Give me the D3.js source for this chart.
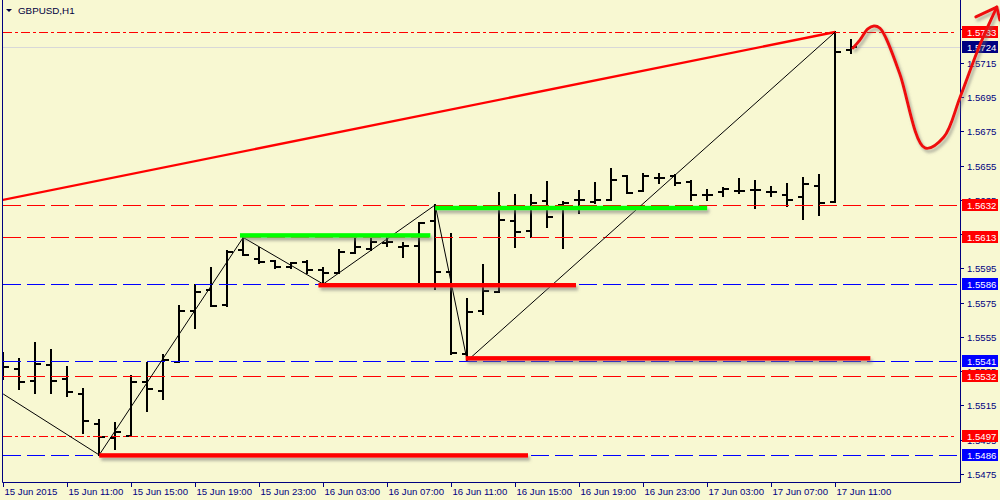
<!DOCTYPE html>
<html><head><meta charset="utf-8">
<script src="https://cdn.jsdelivr.net/npm/d3@7"></script>
<style>
html,body{margin:0;padding:0;background:#F8F8D2;}
svg{display:block;font-family:"Liberation Sans",Arial,sans-serif;}
</style></head>
<body>
<svg id="c" width="1000" height="500"></svg>
<script>
// ---- data ----
const symbol = "GBPUSD,H1";
// hourly bars, index 0 = 15 Jun 2015 07:00
const open  = [1.55356,1.55361,1.55294,1.55384,1.55302,1.55215,1.55039,1.54961,1.54972,1.55288,1.55236,1.55405,1.55701,1.55824,1.55736,1.56057,1.56005,1.55993,1.55956,1.55989,1.55940,1.55925,1.56041,1.56061,1.56100,1.56076,1.56081,1.56226,1.55930,1.55448,1.55701,1.55814,1.56226,1.56170,1.56345,1.56320,1.56349,1.56339,1.56349,1.56489,1.56402,1.56476,1.56489,1.56454,1.56381,1.56396,1.56403,1.56407,1.56394,1.56378,1.56365,1.56431,1.56339,1.57225];
const high  = [1.55454,1.55419,1.55512,1.55473,1.55372,1.55244,1.55064,1.55045,1.55321,1.55396,1.55444,1.55730,1.55853,1.55950,1.56053,1.56130,1.56067,1.55995,1.55983,1.55995,1.55950,1.56057,1.56120,1.56120,1.56135,1.56100,1.56217,1.56320,1.56151,1.55769,1.55970,1.56388,1.56378,1.56378,1.56456,1.56335,1.56403,1.56447,1.56528,1.56491,1.56501,1.56501,1.56495,1.56460,1.56410,1.56417,1.56470,1.56458,1.56427,1.56442,1.56476,1.56495,1.57330,1.57283];
const low   = [1.55302,1.55247,1.55220,1.55220,1.55205,1.54990,1.54860,1.54893,1.54968,1.55119,1.55189,1.55403,1.55600,1.55728,1.55728,1.56028,1.55983,1.55954,1.55954,1.55921,1.55858,1.55923,1.56038,1.56059,1.56081,1.56018,1.55866,1.55828,1.55452,1.55410,1.55682,1.55812,1.56076,1.56131,1.56193,1.56067,1.56275,1.56333,1.56347,1.56390,1.56400,1.56447,1.56437,1.56349,1.56349,1.56374,1.56390,1.56301,1.56372,1.56314,1.56236,1.56261,1.56337,1.57206];
const close = [1.55376,1.55288,1.55390,1.55294,1.55226,1.55059,1.54967,1.54993,1.55285,1.55247,1.55415,1.55701,1.55810,1.55732,1.56047,1.56030,1.55985,1.55956,1.55979,1.55940,1.55925,1.56047,1.56076,1.56106,1.56104,1.56081,1.56215,1.55930,1.55456,1.55693,1.55819,1.56232,1.56164,1.56333,1.56252,1.56333,1.56349,1.56349,1.56466,1.56392,1.56489,1.56476,1.56447,1.56378,1.56381,1.56412,1.56403,1.56407,1.56394,1.56349,1.56442,1.56333,1.57215,1.57240];

const xTickIndex  = [0,4,8,12,16,20,24,28,32,36,40,44,48,52];
const xTickLabels = ["15 Jun 2015","15 Jun 11:00","15 Jun 15:00","15 Jun 19:00","15 Jun 23:00","16 Jun 03:00","16 Jun 07:00","16 Jun 11:00","16 Jun 15:00","16 Jun 19:00","16 Jun 23:00","17 Jun 03:00","17 Jun 07:00","17 Jun 11:00"];
const yTickValues = [1.5475,1.5495,1.5515,1.5535,1.5555,1.5575,1.5595,1.5615,1.5635,1.5655,1.5675,1.5695,1.5715,1.5735];

// horizontal level lines
const levelPrices = [1.5733,1.5632,1.5613,1.5586,1.5541,1.5532,1.5497,1.5486];
const levelColors = ["red","red","red","blue","blue","red","red","blue"];
const levelStyles = ["dashdot","dash","dash","dash","dash","dash","dashdot","dash"];
const bidPrice = 1.5724;

// thick support / resistance segments
const srPrice = [1.54857,1.56142,1.55851,1.56302,1.55424];
const srStart = [6,14.8,19.7,27,28.9];
const srEnd   = [32.8,26.7,35.8,44,54.2];
const srColor = ["red","green","red","green","red"];

// zigzag pivots
const zzIndex = [0,6,15,20,27,29,52];
const zzPrice = [1.55216,1.5486,1.5613,1.55858,1.5632,1.5541,1.5733];

// red trend line
const trendIndex = [-0.2,52];
const trendPrice = [1.56346,1.5733];

// hand-drawn forecast arrow
const arrowIndex = [53.11,53.54,54.04,54.42,54.79,55.17,56.04,57.61,58.79,59.79,61.04,62.1];
const arrowPrice = [1.57237,1.57283,1.57348,1.57365,1.57353,1.57295,1.57085,1.56653,1.56717,1.56945,1.57254,1.57476];
const headIndex = [60.79,62.1,62.29];
const headPrice = [1.57418,1.57476,1.57400];

// ---- drawing ----
const W = 1000, H = 500;
const plotL = 3, plotR = 960, plotB = 482;
const x = d3.scaleLinear().domain([-0.2, 59.8]).range([0, 960]);
const y = d3.scaleLinear().domain([1.54702, 1.57517]).range([482, 0]);
const navy = "#000080";
const colorMap = {red:"#FF0000", blue:"#0000FF", green:"#00FF00"};

const svg = d3.select("#c");
svg.append("rect").attr("width",W).attr("height",H).attr("fill","#F8F8D2");

const defs = svg.append("defs");
defs.append("clipPath").attr("id","plot").append("rect")
  .attr("x",plotL).attr("y",0).attr("width",plotR-plotL).attr("height",plotB);
const f = defs.append("filter").attr("id","sh").attr("filterUnits","userSpaceOnUse")
  .attr("x",0).attr("y",0).attr("width",W).attr("height",H);
f.append("feDropShadow").attr("dx",2).attr("dy",3).attr("stdDeviation",1.6)
  .attr("flood-color","#707070").attr("flood-opacity",0.55);

const plot = svg.append("g").attr("clip-path","url(#plot)");

// bid line
plot.append("line").attr("x1",plotL).attr("x2",plotR)
  .attr("y1",Math.round(y(bidPrice))+0.5).attr("y2",Math.round(y(bidPrice))+0.5)
  .attr("stroke","#D8D8D8").attr("stroke-width",1);

// bars
const bars = plot.append("g").attr("stroke","#000").attr("stroke-width",2).attr("shape-rendering","crispEdges");
open.forEach((o,i)=>{
  const cx = Math.round(x(i));
  const g = bars.append("g");
  g.append("line").attr("x1",cx).attr("x2",cx).attr("y1",Math.round(y(high[i]))-1).attr("y2",Math.round(y(low[i]))+1);
  g.append("line").attr("x1",cx-5).attr("x2",cx).attr("y1",Math.round(y(o))).attr("y2",Math.round(y(o)));
  g.append("line").attr("x1",cx).attr("x2",cx+6).attr("y1",Math.round(y(close[i]))).attr("y2",Math.round(y(close[i])));
});

// level lines
levelPrices.forEach((p,k)=>{
  const yy = Math.round(y(p))+0.5;
  plot.append("line").attr("x1",plotL).attr("x2",plotR-3).attr("y1",yy).attr("y2",yy)
    .attr("stroke",colorMap[levelColors[k]]).attr("stroke-width",1)
    .attr("stroke-dasharray", levelStyles[k]==="dash" ? "18,6" : "9,3,3,3");
});

// trend line
plot.append("line")
  .attr("x1",x(trendIndex[0])).attr("y1",y(trendPrice[0]))
  .attr("x2",x(trendIndex[1])).attr("y2",y(trendPrice[1]))
  .attr("stroke","#FF0000").attr("stroke-width",2.4);

// zigzag
plot.append("path")
  .attr("d", d3.line().x(d=>x(d[0])).y(d=>y(d[1]))(zzIndex.map((v,i)=>[v,zzPrice[i]])))
  .attr("fill","none").attr("stroke","#000").attr("stroke-width",1);

// thick S/R lines
const srG = plot.append("g").attr("filter","url(#sh)");
srPrice.forEach((p,k)=>{
  srG.append("rect").attr("x",x(srStart[k])).attr("width",x(srEnd[k])-x(srStart[k]))
    .attr("y",y(p)-2.25).attr("height",4.5)
    .attr("fill",colorMap[srColor[k]]);
});

// axes frame
svg.append("line").attr("x1",2.5).attr("x2",2.5).attr("y1",0).attr("y2",plotB+0.5).attr("stroke",navy);
svg.append("line").attr("x1",plotR+0.5).attr("x2",plotR+0.5).attr("y1",0).attr("y2",plotB+0.5).attr("stroke",navy);
svg.append("line").attr("x1",2.5).attr("x2",plotR+0.5).attr("y1",plotB+0.5).attr("y2",plotB+0.5).attr("stroke",navy);

// y ticks
const yAx = svg.append("g");
yTickValues.forEach(v=>{
  const yy = Math.round(y(v))+0.5;
  yAx.append("line").attr("x1",plotR).attr("x2",plotR+4).attr("y1",yy).attr("y2",yy).attr("stroke",navy);
  yAx.append("text").attr("x",967).attr("y",yy+3.5).attr("font-size","9.6px").attr("fill",navy).text(v.toFixed(4));
});

// x ticks
const xAx = svg.append("g");
xTickIndex.forEach((v,k)=>{
  const xx = Math.round(x(v))+0.5;
  xAx.append("line").attr("x1",xx).attr("x2",xx).attr("y1",plotB).attr("y2",plotB+5).attr("stroke",navy);
  xAx.append("text").attr("x",xx+1).attr("y",495).attr("font-size","9.6px").attr("fill",navy).text(xTickLabels[k]);
});

// price labels
function priceLabel(p, col){
  const yy = y(p);
  svg.append("rect").attr("x",962).attr("y",Math.round(yy)-6).attr("width",36).attr("height",12).attr("fill",col);
  svg.append("text").attr("x",967).attr("y",Math.round(yy)+4).attr("font-size","9.6px").attr("fill","#fff").text(p.toFixed(4));
}
levelPrices.forEach((p,k)=>priceLabel(p, colorMap[levelColors[k]]));
priceLabel(bidPrice, navy);

// arrow
const arrowLine = d3.line().x(d=>x(d[0])).y(d=>y(d[1])).curve(d3.curveCatmullRom.alpha(0.5));
const ag = svg.append("g").attr("filter","url(#sh)");
ag.append("path").attr("d", arrowLine(arrowIndex.map((v,i)=>[v,arrowPrice[i]])))
  .attr("fill","none").attr("stroke","#EE1111").attr("stroke-width",3).attr("stroke-linejoin","round").attr("stroke-linecap","round");
ag.append("path").attr("d", d3.line().x(d=>x(d[0])).y(d=>y(d[1]))(headIndex.map((v,i)=>[v,headPrice[i]])))
  .attr("fill","none").attr("stroke","#EE1111").attr("stroke-width",3).attr("stroke-linejoin","round").attr("stroke-linecap","round");

// title
svg.append("path").attr("d","M6,9 L12,9 L9,12 Z").attr("fill","#000040");
svg.append("text").attr("x",18).attr("y",14).attr("font-size","9.8px").attr("fill","#000040").text(symbol);
</script>
</body></html>
